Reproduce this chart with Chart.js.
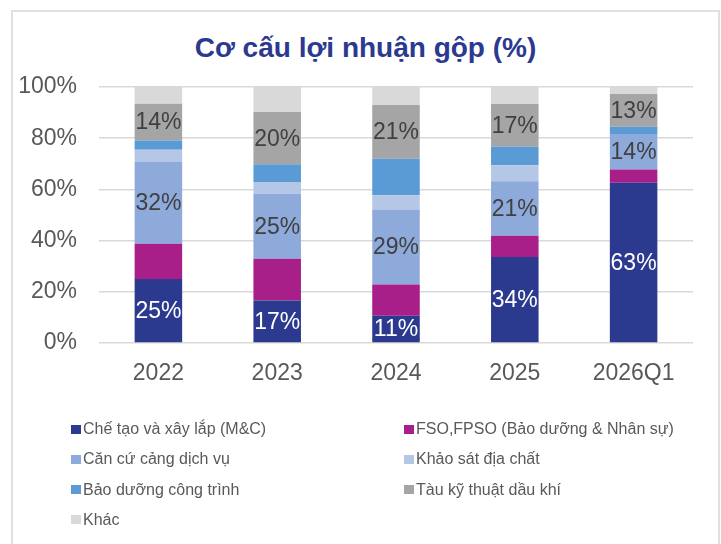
<!DOCTYPE html>
<html>
<head>
<meta charset="utf-8">
<script src="https://cdn.jsdelivr.net/npm/chart.js@4.4.1/dist/chart.umd.min.js"></script>
<style>
  html, body { margin: 0; padding: 0; background: #fff; }
  #wrap { position: relative; width: 721px; height: 544px; overflow: hidden; font-family: "Liberation Sans", Arial, sans-serif; }
  #frame { position: absolute; left: 11px; top: 10px; width: 709px; height: 560px; border: 2px solid #e0e0e0; box-sizing: border-box; }
  #title { position: absolute; left: 11px; top: 32px; width: 709px; text-align: center; font-size: 28px; line-height: 32px; font-weight: bold; color: #2b3990; }
  #myChart { position: absolute; left: 0; top: 0; }
  #legend { position: absolute; left: 71px; top: 420px; width: 640px; }
  .item { position: absolute; display: flex; align-items: center; font-size: 16px; color: #595959; white-space: nowrap; }
  .box { width: 10px; height: 9px; margin-right: 2px; }
</style>
</head>
<body>
<div id="wrap">
  <div id="frame"></div>
  <div id="title">Cơ cấu lợi nhuận gộp (%)</div>
  <canvas id="myChart" width="721" height="544"></canvas>
  <div id="legend"></div>
</div>
<script>
const categories = ['2022', '2023', '2024', '2025', '2026Q1'];
const seriesNames = [
    'Chế tạo và xây lắp (M&C)',
    'FSO,FPSO (Bảo dưỡng & Nhân sự)',
    'Căn cứ cảng dịch vụ',
    'Khảo sát địa chất',
    'Bảo dưỡng công trình',
    'Tàu kỹ thuật dầu khí',
    'Khác'
];
const mcValues = [25, 16.6, 10.6, 33.6, 62.6];
const fsoValues = [13.8, 16.3, 12.3, 8.3, 5.2];
const canCuValues = [32.1, 25.4, 29.2, 21.3, 13.8];
const khaoSatValues = [4.6, 4.6, 5.6, 6.2, 0];
const baoDuongValues = [3.6, 6.9, 14.3, 7.3, 2.9];
const tauValues = [14.4, 20.4, 21, 16.7, 12.8];
const khacValues = [6.5, 9.8, 7, 6.6, 2.7];
const yTicks = [0, 20, 40, 60, 80, 100];

const colors = ['#2b3a8f', '#a81f8a', '#8eaadb', '#b4c7e7', '#5b9bd5', '#a5a5a5', '#d9d9d9'];
const allValues = [mcValues, fsoValues, canCuValues, khaoSatValues, baoDuongValues, tauValues, khacValues];
// which series carry a value label, and in which colour
const labelColors = { 0: '#ffffff', 2: '#404040', 5: '#404040' };

const FONT = '"Liberation Sans", Arial, sans-serif';

const segmentLabels = {
    id: 'segmentLabels',
    afterDatasetsDraw(chart) {
        const ctx = chart.ctx;
        ctx.save();
        ctx.font = '23px ' + FONT;
        ctx.textAlign = 'center';
        ctx.textBaseline = 'middle';
        Object.keys(labelColors).forEach(i => {
            const meta = chart.getDatasetMeta(+i);
            ctx.fillStyle = labelColors[i];
            meta.data.forEach((bar, j) => {
                const v = chart.data.datasets[i].data[j];
                if (!v) return;
                ctx.fillText(Math.round(v) + '%', bar.x, (bar.y + bar.base) / 2 + 1);
            });
        });
        ctx.restore();
    }
};

const ctx = document.getElementById('myChart').getContext('2d');
const myChart = new Chart(ctx, {
    type: 'bar',
    data: {
        labels: categories,
        datasets: allValues.map((vals, i) => ({
            label: seriesNames[i],
            data: vals,
            backgroundColor: colors[i],
            borderWidth: 0,
            barPercentage: 0.4,
            categoryPercentage: 1
        }))
    },
    options: {
        responsive: false,
        animation: false,
        layout: { padding: { left: 0, right: 28, top: 87, bottom: 158 } },
        plugins: {
            legend: { display: false },
            tooltip: { enabled: false },
            title: { display: false }
        },
        scales: {
            x: {
                stacked: true,
                grid: { display: false },
                border: { display: false },
                ticks: { color: '#595959', font: { family: FONT, size: 23 }, padding: 9 },
                afterFit(scale) { scale.height = 43; }
            },
            y: {
                stacked: true,
                min: 0,
                max: 100,
                afterBuildTicks(scale) { scale.ticks = yTicks.map(v => ({ value: v })); },
                grid: { color: '#d9d9d9', lineWidth: 1.5, drawTicks: false },
                border: { display: false },
                ticks: {
                    color: '#595959',
                    font: { family: FONT, size: 23 },
                    padding: 22,
                    callback: v => v + '%'
                },
                afterFit(scale) { scale.width = 99; }
            }
        }
    },
    plugins: [segmentLabels]
});

// two-column legend built from the chart datasets
const legendEl = document.getElementById('legend');
myChart.data.datasets.forEach((ds, i) => {
    const item = document.createElement('div');
    item.className = 'item';
    item.style.left = (i % 2 ? 333 : 0) + 'px';
    item.style.top = (Math.floor(i / 2) * 30.3) + 'px';
    const box = document.createElement('span');
    box.className = 'box';
    box.style.background = ds.backgroundColor;
    item.appendChild(box);
    item.appendChild(document.createTextNode(ds.label));
    legendEl.appendChild(item);
});
</script>
</body>
</html>
